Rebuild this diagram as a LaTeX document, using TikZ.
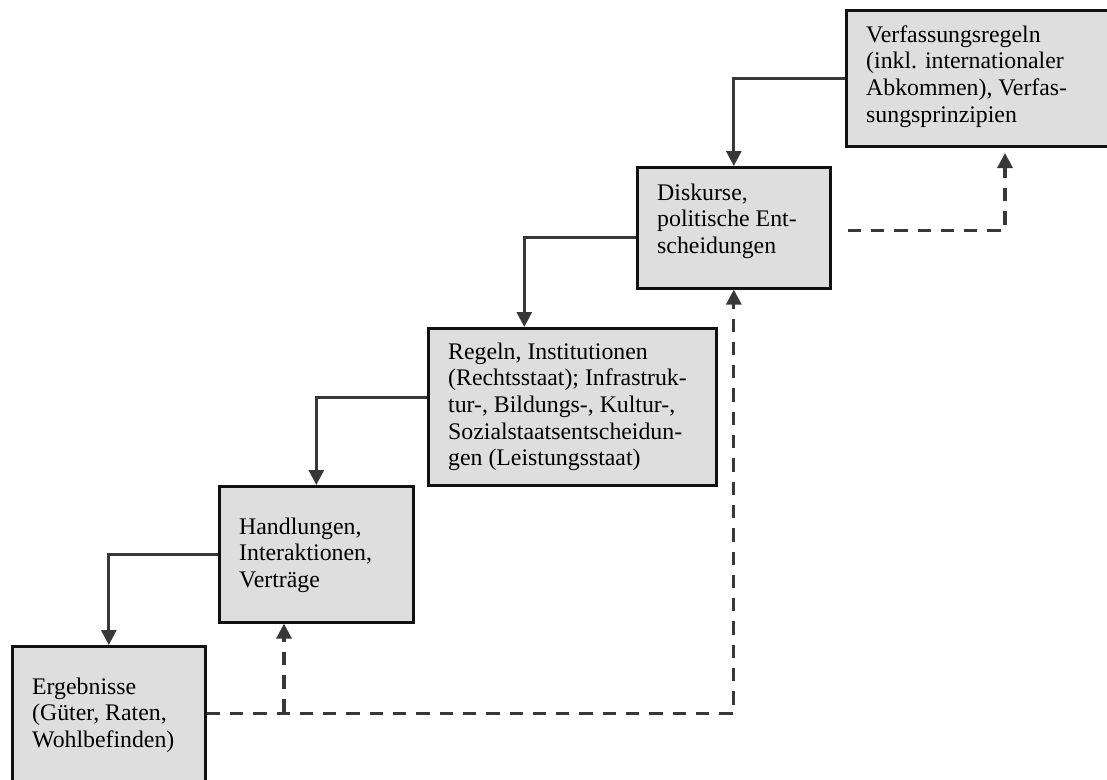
\documentclass[tikz,border=0pt]{standalone}
\usepackage{fontspec}
\setmainfont{Liberation Serif}
\usetikzlibrary{arrows.meta,calc}
\definecolor{boxfill}{HTML}{DEDEDE}
\definecolor{boxline}{HTML}{111111}
\definecolor{arrowcol}{HTML}{383838}
\tikzset{
  stage/.style={draw=boxline, line width=2.6pt, fill=boxfill, rectangle, inner sep=0pt, anchor=north west},
  stagetext/.style={anchor=north west, inner sep=0pt, align=left, font=\fontsize{23.8}{26.7}\selectfont},
  down/.style={draw=arrowcol, line width=2.8pt, -{Triangle[length=15pt,width=15pt]}},
  up/.style={draw=arrowcol, line width=3.2pt, dash pattern=on 13.3pt off 10pt, -{Triangle[length=15pt,width=15pt]}},
}
\begin{document}
\begin{tikzpicture}[x=1pt,y=-1pt]
\useasboundingbox (0,0) rectangle (1107,779);
\clip (0,0) rectangle (1107,779);
% boxes
\node[stage, minimum width=193pt, minimum height=160pt] (E) at (11,645) {};
\node[stage, minimum width=194pt, minimum height=136pt] (H) at (218,485) {};
\node[stage, minimum width=288pt, minimum height=157pt] (R) at (427,327) {};
\node[stage, minimum width=193pt, minimum height=121pt] (D) at (636,166) {};
\node[stage, minimum width=300pt, minimum height=136pt] (V) at (845,9) {};
% texts
\node[stagetext] (Et) at ($(E.north west)+(21,30.3)$) {\strut Ergebnisse\\(Güter, Raten,\\Wohlbefinden)};
\node[stagetext] (Ht) at ($(H.north west)+(21,30.3)$) {\strut Handlungen,\\Interaktionen,\\Verträge};
\node[stagetext] (Rt) at ($(R.north west)+(21,13.3)$) {\strut Regeln, Institutionen\\(Rechtsstaat); Infrastruk-\\tur-, Bildungs-, Kultur-,\\Sozialstaatsentscheidun-\\gen (Leistungsstaat)};
\node[stagetext] (Dt) at ($(D.north west)+(21,15.3)$) {\strut Diskurse,\\politische Ent-\\scheidungen};
\node[stagetext] (Vt) at ($(V.north west)+(21,14.3)$) {\strut Verfassungsregeln\\(inkl. internationaler\\Abkommen), Verfas-\\sungsprinzipien};
% solid downward connectors
\draw[down] (V.west) -| (D.north);
\draw[down] ([yshift=-10pt]D.west) -| ([xshift=-48pt]R.north);
\draw[down] ([yshift=9.5pt]R.west) -| (H.north);
\draw[down] (H.west) -| (E.north);
% dashed upward connectors
\coordinate (J) at (284,712);
\coordinate (Vin) at (1005,153);
\draw[up] ([yshift=13pt]E.east) -| (D.south);
\draw[up] (J) -- (J |- H.south);
\draw[up] ([xshift=16pt,yshift=-2.5pt]D.east) -| (Vin);
\end{tikzpicture}
\end{document}
